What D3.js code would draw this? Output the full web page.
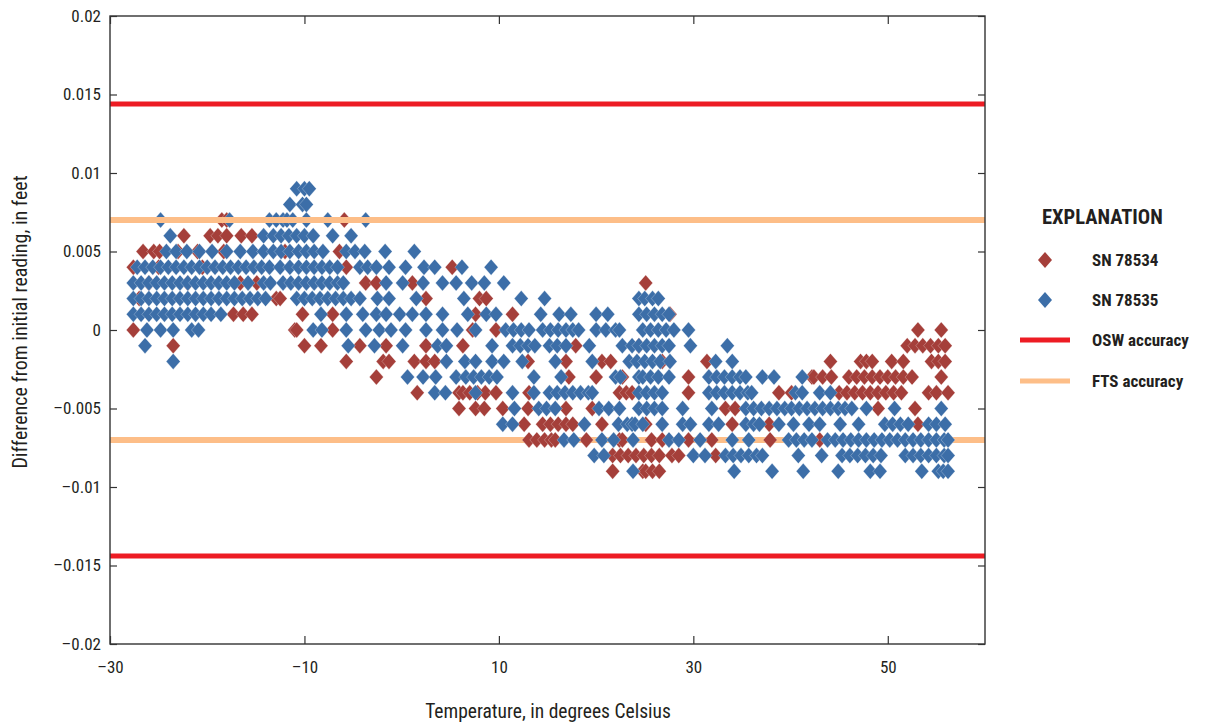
<!DOCTYPE html>
<html>
<head>
<meta charset="utf-8">
<script src="https://cdn.jsdelivr.net/npm/d3@7"></script>
<style>
  body { margin: 0; background: #fff; }
  svg { display: block; }
  text { font-family: "Liberation Sans Narrow", "Roboto Condensed", "Arial Narrow", sans-serif; fill: #231f20; }
</style>
</head>
<body>
<svg width="1216" height="725"></svg>
<script>
// Each row: [difference in thousandths of a foot, temperatures (deg C)]
const rowsSN78534 = [
    [7, [-18.5, -18.0, -5.9]],
    [6, [-22.4, -19.7, -18.9, -18.0, -16.5, -15.4]],
    [5, [-26.6, -25.5, -24.9, -23.0, -21.0, -18.3, -12.0, -6.4]],
    [4, [-27.6, -25.0, -20.5, -5.7, 5.2]],
    [3, [-26.0, -22.0, -16.6, -14.9, -3.7, -2.6, 1.1, 25.1]],
    [2, [-27.0, -12.9, -12.5, 2.5, 8.0, 8.7]],
    [1, [-17.3, -16.3, -15.4, -10.2, -7.1, 7.6, 11.4, 27.6]],
    [0, [-27.6, -11.0, -10.8, -7.1, 7.3, 9.7, 53.1, 55.5]],
    [-1, [-23.5, -10.0, -8.3, -4.3, -1.6, 2.5, 6.3, 17.9, 24.4, 52.0, 52.8, 53.6, 54.4, 55.2, 55.9]],
    [-2, [-5.7, -1.9, -1.3, 1.3, 2.5, 3.4, 13.0, 16.9, 20.6, 21.5, 26.8, 31.4, 44.1, 47.2, 47.8, 48.4, 50.4, 51.6, 54.5, 55.2, 55.9]],
    [-3, [-2.6, 17.2, 20.0, 22.7, 29.5, 42.2, 42.4, 43.3, 44.2, 46.0, 46.8, 47.6, 48.4, 49.2, 50.0, 50.8, 51.6, 52.5, 55.5]],
    [-4, [1.6, 5.9, 6.3, 7.0, 7.8, 8.6, 9.7, 13.1, 22.4, 23.1, 23.7, 29.5, 38.8, 40.1, 45.0, 45.8, 46.6, 47.4, 48.2, 49.0, 49.8, 50.6, 51.4, 54.2, 55.0, 56.2]],
    [-5, [5.9, 7.6, 8.5, 10.4, 13.0, 16.9, 19.6, 33.3, 34.3, 49.0, 52.8]],
    [-6, [12.6, 14.5, 15.3, 16.1, 16.9, 17.6, 20.6, 25.1, 34.0, 37.8, 53.1]],
    [-7, [13.1, 13.9, 14.7, 15.4, 15.8, 19.0, 22.4, 22.7, 25.7, 26.8, 29.5, 31.9, 37.9, 43.0]],
    [-8, [21.7, 22.5, 23.3, 24.1, 24.9, 25.7, 26.5, 27.8, 28.5, 32.3]],
    [-9, [21.7, 24.8, 25.1, 25.8, 26.5]]
];

const rowsSN78535 = [
    [9, [-10.8, -10.0, -9.5]],
    [8, [-11.5, -10.2, -9.8]],
    [7, [-24.8, -17.7, -13.6, -12.9, -12.2, -11.8, -11.2, -9.8, -7.6, -3.7]],
    [6, [-23.8, -14.2, -13.2, -12.4, -11.6, -10.8, -10.0, -9.1, -7.1, -5.2]],
    [5, [-24.2, -23.2, -22.1, -20.8, -19.5, -18.0, -16.6, -15.3, -14.2, -13.2, -12.4, -11.5, -10.6, -9.8, -9.0, -8.1, -5.7, -4.8, -3.8, -1.7, 1.3]],
    [4, [-27.2, -26.4, -25.6, -24.8, -24.0, -23.2, -22.4, -21.6, -20.8, -20.0, -19.2, -18.4, -17.6, -16.8, -16.0, -15.2, -14.4, -13.6, -12.5, -11.5, -10.6, -9.8, -9.0, -8.2, -7.4, -6.6, -4.3, -3.5, -2.6, -1.3, 0.4, 2.3, 3.4, 6.2, 9.2]],
    [3, [-27.6, -26.8, -26.0, -25.2, -24.4, -23.6, -22.8, -22.0, -21.2, -20.4, -19.6, -18.8, -18.0, -17.2, -15.8, -14.2, -13.5, -12.2, -11.4, -10.6, -9.8, -9.0, -8.2, -7.4, -6.6, -6.0, -1.6, 0.1, 2.2, 4.2, 5.6, 7.2, 8.5, 10.5]],
    [2, [-27.6, -26.8, -26.0, -25.2, -24.4, -23.6, -22.8, -22.0, -21.2, -20.4, -19.6, -18.8, -18.0, -17.2, -16.4, -15.6, -14.8, -14.0, -10.8, -10.0, -9.2, -8.4, -7.6, -6.8, -6.0, -5.2, -4.3, -2.5, -1.3, 1.5, 6.4, 12.3, 14.7, 24.4, 25.0, 25.8, 26.4]],
    [1, [-27.6, -26.8, -26.0, -25.2, -24.4, -23.6, -22.8, -22.0, -21.2, -20.4, -19.6, -18.6, -8.3, -5.7, -4.0, -2.6, -1.6, -0.2, 1.1, 2.5, 4.2, 6.8, 8.7, 9.7, 14.3, 16.2, 17.4, 20.0, 21.2, 24.4, 25.2, 26.0, 26.8, 27.5]],
    [0, [-26.2, -24.8, -23.5, -21.6, -20.9, -9.1, -8.2, -5.7, -3.7, -2.3, -1.1, 0.4, 2.5, 4.2, 5.7, 7.6, 10.7, 11.5, 12.3, 13.1, 14.5, 15.3, 16.1, 16.9, 17.6, 18.2, 20.0, 21.0, 22.0, 22.4, 24.8, 25.6, 26.4, 27.2, 28.0, 29.5]],
    [-1, [-26.4, -5.5, -2.8, 0.1, 3.7, 4.6, 9.3, 11.4, 12.2, 13.0, 13.7, 15.2, 16.0, 16.9, 19.3, 22.7, 23.7, 24.4, 25.2, 26.0, 26.8, 27.5, 29.7, 33.5]],
    [-2, [-23.5, 4.6, 6.5, 7.6, 9.3, 10.5, 12.4, 15.8, 19.6, 23.4, 24.2, 25.0, 25.8, 26.6, 27.6, 32.3, 34.0]],
    [-3, [0.6, 2.2, 3.5, 5.6, 6.6, 7.4, 8.2, 9.0, 9.8, 13.6, 16.4, 22.0, 22.5, 24.4, 24.8, 25.6, 26.4, 27.5, 31.6, 32.4, 33.2, 34.0, 34.8, 35.4, 37.1, 38.3, 41.2]],
    [-4, [3.4, 4.5, 7.6, 11.4, 13.6, 15.2, 16.0, 16.8, 17.6, 18.4, 19.2, 19.6, 24.4, 25.2, 26.0, 26.8, 31.6, 32.4, 33.2, 34.0, 34.8, 35.6, 36.0, 40.5, 41.2, 43.0, 44.1]],
    [-5, [11.6, 14.1, 14.9, 15.8, 20.3, 21.3, 22.4, 24.4, 25.2, 26.0, 26.8, 28.9, 31.9, 35.4, 36.2, 37.0, 37.8, 38.6, 39.4, 40.1, 40.9, 41.7, 42.5, 43.3, 44.1, 44.9, 45.6, 46.3, 47.8, 50.7, 55.5]],
    [-6, [10.4, 11.4, 18.8, 22.3, 23.2, 23.7, 24.0, 24.8, 26.8, 28.9, 29.7, 31.6, 32.6, 35.4, 36.2, 36.8, 38.8, 40.3, 41.9, 43.0, 45.1, 47.0, 49.7, 50.5, 51.3, 52.1, 54.2, 55.0, 55.9]],
    [-7, [16.7, 17.7, 20.6, 21.8, 23.8, 27.5, 28.5, 30.7, 34.0, 35.7, 39.8, 40.6, 41.4, 42.2, 43.8, 44.6, 45.4, 46.2, 47.0, 47.8, 48.6, 49.4, 50.2, 51.0, 51.8, 52.6, 53.4, 54.2, 55.0, 55.8, 56.2]],
    [-8, [19.8, 20.8, 30.0, 31.2, 33.3, 34.1, 34.9, 35.7, 36.5, 37.1, 40.8, 43.2, 45.3, 46.1, 46.9, 47.7, 48.5, 49.3, 51.8, 52.6, 53.4, 54.2, 55.0, 55.8, 56.2]],
    [-9, [23.8, 34.2, 38.1, 41.3, 44.9, 48.2, 49.2, 53.5, 55.2, 55.7, 56.2]]
];

const xTicks = [-30, -10, 10, 30, 50];
const yTicks = [-0.02, -0.015, -0.01, -0.005, 0, 0.005, 0.01, 0.015, 0.02];
const oswAccuracy = 0.0144;
const ftsAccuracy = 0.007;

const colors = { sn78534: "#a53f3a", sn78535: "#3c6ea8", osw: "#ed1c24", fts: "#fdbe88" };

// разворачиваем строки в точки
function flatten(rows) {
    let pts = [];
    for (let row of rows) {
        for (let t of row[1]) pts.push({ t: t, v: row[0] / 1000 });
    }
    return pts;
}

const svg = d3.select("svg");
const area = { left: 110, right: 985, top: 16, bottom: 644 };

const scX = d3.scaleLinear().domain([-30, 60]).range([area.left, area.right]);
const scY = d3.scaleLinear().domain([-0.02, 0.02]).range([area.bottom, area.top]);

const fmt = v => (v < 0 ? "\u2013" : "") + String(Math.abs(v));

// reference lines (upper FTS line goes over the points, the rest under)
function refLine(v, c, w) {
    svg.append("line")
        .attr("x1", area.left)
        .attr("x2", area.right)
        .attr("y1", scY(v))
        .attr("y2", scY(v))
        .attr("stroke", c)
        .attr("stroke-width", w);
}
refLine(oswAccuracy, colors.osw, 5);
refLine(-oswAccuracy, colors.osw, 5);
refLine(-ftsAccuracy, colors.fts, 6);

const diamond = "M0,-8L7,0L0,8L-7,0Z";

function drawSeries(rows, color, cls) {
    svg.selectAll("." + cls)
        .data(flatten(rows))
        .enter()
        .append("path")
        .attr("class", cls)
        .attr("d", diamond)
        .attr("transform", d => `translate(${scX(d.t)},${scY(d.v)})`)
        .attr("fill", color)
        .attr("stroke", "#fff")
        .attr("stroke-opacity", 0.45)
        .attr("stroke-width", 0.6);
}
drawSeries(rowsSN78534, colors.sn78534, "p78534");
drawSeries(rowsSN78535, colors.sn78535, "p78535");

refLine(ftsAccuracy, colors.fts, 6);

// frame + inward ticks
const axisColor = "#333";
svg.append("rect")
    .attr("x", area.left).attr("y", area.top)
    .attr("width", area.right - area.left).attr("height", area.bottom - area.top)
    .attr("fill", "none").attr("stroke", axisColor).attr("stroke-width", 1.4);

const axLeft = d3.axisLeft(scY).tickValues(yTicks).tickSize(-7).tickPadding(9).tickFormat(fmt);
const gL = svg.append("g").attr("transform", `translate(${area.left},0)`).call(axLeft);
const axRight = d3.axisRight(scY).tickValues(yTicks).tickSize(-7).tickFormat("");
const gR = svg.append("g").attr("transform", `translate(${area.right},0)`).call(axRight);
const axBottom = d3.axisBottom(scX).tickValues(xTicks).tickSize(-8).tickPadding(17).tickFormat(fmt);
const gB = svg.append("g").attr("transform", `translate(0,${area.bottom})`).call(axBottom);
const axTop = d3.axisTop(scX).tickValues(xTicks).tickSize(-8).tickFormat("");
const gT = svg.append("g").attr("transform", `translate(0,${area.top})`).call(axTop);

[gL, gR, gB, gT].forEach(g => {
    g.select(".domain").remove();
    g.selectAll(".tick line").attr("stroke", axisColor).attr("stroke-width", 1.2);
    g.selectAll("text").attr("font-size", 17).attr("fill", "#231f20")
        .style("font-family", "'Liberation Sans Narrow','Roboto Condensed','Arial Narrow',sans-serif");
});

// axis titles
svg.append("text")
    .attr("x", 548).attr("y", 718)
    .attr("text-anchor", "middle").attr("font-size", 19.5)
    .text("Temperature, in degrees Celsius");
svg.append("text")
    .attr("transform", "translate(27,322) rotate(-90)")
    .attr("text-anchor", "middle").attr("font-size", 20)
    .text("Difference from initial reading, in feet");

// legend
const lg = svg.append("g");
lg.append("text").attr("x", 1042).attr("y", 224)
    .attr("font-size", 20.5).attr("font-weight", "bold").text("EXPLANATION");
const legendItems = [
    { label: "SN 78534", type: "pt", c: colors.sn78534, y: 260 },
    { label: "SN 78535", type: "pt", c: colors.sn78535, y: 300 },
    { label: "OSW accuracy", type: "ln", c: colors.osw, y: 340 },
    { label: "FTS accuracy", type: "ln", c: colors.fts, y: 381 }
];
legendItems.forEach(it => {
    if (it.type === "pt") {
        lg.append("path").attr("d", diamond)
            .attr("transform", `translate(1045,${it.y})`).attr("fill", it.c);
    } else {
        lg.append("line").attr("x1", 1020).attr("x2", 1070)
            .attr("y1", it.y).attr("y2", it.y)
            .attr("stroke", it.c).attr("stroke-width", 5);
    }
    lg.append("text").attr("x", 1092).attr("y", it.y + 6)
        .attr("font-size", 17).attr("font-weight", "bold").text(it.label);
});
</script>
</body>
</html>
